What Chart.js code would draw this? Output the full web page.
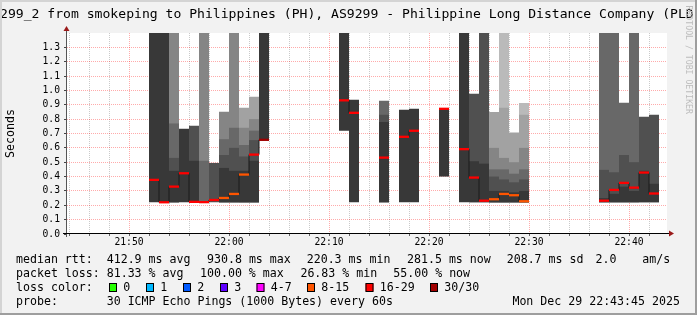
<!DOCTYPE html>
<html>
<head>
<meta charset="utf-8">
<script src="https://cdn.jsdelivr.net/npm/chart.js@4.4.1/dist/chart.umd.min.js"></script>
<style>
    html, body { margin: 0; padding: 0; background: #f2f2f2; }
    #grafico_smoke { display: block; }
</style>
</head>
<body>
<canvas id="grafico_smoke" width="697" height="315"></canvas>
<script>
/* Smokeping chart: one column per minute, smoke bands + median coloured by packet loss */

const minute_labels = [
    '21:52', '21:53', '21:54', '21:55', '21:56', '21:57', '21:58', '21:59', '22:00', '22:01', '22:02', '22:03',
    '22:11', '22:12', '22:15', '22:17', '22:18', '22:21',
    '22:23', '22:24', '22:25', '22:26', '22:27', '22:28', '22:29',
    '22:37', '22:38', '22:39', '22:40', '22:41', '22:42',
];

// seconds
const rtt_min = [
    0.221, 0.221, 0.221, 0.221, 0.221, 0.221, 0.221, 0.221, 0.221, 0.221, 0.221, 0.656,
    0.719, 0.221, 0.221, 0.221, 0.221, 0.400,
    0.221, 0.221, 0.221, 0.221, 0.221, 0.221, 0.221,
    0.221, 0.221, 0.221, 0.221, 0.221, 0.221,
];

const rtt_median = [
    0.377, 0.221, 0.330, 0.423, 0.224, 0.222, 0.237, 0.251, 0.279, 0.414, 0.553, 0.656,
    0.931, 0.844, 0.532, 0.677, 0.719, 0.872,
    0.591, 0.393, 0.232, 0.242, 0.279, 0.270, 0.228,
    0.232, 0.307, 0.356, 0.323, 0.428, 0.282,
];

// lost pings out of 30
const lost_pings = [
    22, 24, 20, 24, 22, 19, 23, 12, 12, 10, 17, 30,
    27, 26, 24, 26, 25, 28,
    25, 22, 21, 11, 9, 10, 12,
    20, 19, 18, 18, 19, 17,
];

// upper edge of each smoke band, darkest band first (seconds)
const smoke_top = [
    [1.5, 1.5, 1.5, 1.5, 1.5, 1.5],
    [1.5, 1.5, 1.5, 1.5, 1.5, 1.5],
    [0.44, 0.53, 0.77, 1.5, 1.5, 1.5],
    [0.733, 0.733, 0.733, 0.733, 0.733, 0.733],
    [0.51, 0.754, 0.754, 0.754, 0.754, 0.754],
    [0.221, 0.221, 0.51, 1.5, 1.5, 1.5],
    [0.221, 0.495, 0.495, 0.495, 0.495, 0.495],
    [0.46, 0.55, 0.66, 0.851, 0.851, 0.851],
    [0.44, 0.60, 0.74, 1.5, 1.5, 1.5],
    [0.44, 0.54, 0.62, 0.74, 0.879, 0.879],
    [0.51, 0.654, 0.72, 0.80, 0.956, 0.956],
    [1.5, 1.5, 1.5, 1.5, 1.5, 1.5],

    [1.5, 1.5, 1.5, 1.5, 1.5, 1.5],
    [0.935, 0.935, 0.935, 0.935, 0.935, 0.935],
    [0.78, 0.83, 0.928, 0.928, 0.928, 0.928],
    [0.865, 0.865, 0.865, 0.865, 0.865, 0.865],
    [0.872, 0.872, 0.872, 0.872, 0.872, 0.872],
    [0.877, 0.877, 0.877, 0.877, 0.877, 0.877],

    [1.5, 1.5, 1.5, 1.5, 1.5, 1.5],
    [0.507, 0.977, 0.977, 0.977, 0.977, 0.977],
    [0.49, 1.5, 1.5, 1.5, 1.5, 1.5],
    [0.30, 0.40, 0.45, 0.60, 0.849, 0.849],
    [0.30, 0.38, 0.45, 0.53, 0.88, 1.5],
    [0.29, 0.36, 0.42, 0.50, 0.707, 0.707],
    [0.30, 0.38, 0.45, 0.60, 0.83, 0.912],

    [0.25, 0.447, 1.5, 1.5, 1.5, 1.5],
    [0.28, 0.43, 1.5, 1.5, 1.5, 1.5],
    [0.33, 0.55, 0.914, 0.914, 0.914, 0.914],
    [0.30, 0.50, 1.5, 1.5, 1.5, 1.5],
    [0.44, 0.816, 0.816, 0.816, 0.816, 0.816],
    [0.35, 0.830, 0.830, 0.830, 0.830, 0.830],
];

const hour_labels = ['21:50', '22:00', '22:10', '22:20', '22:30', '22:40'];
const loss_labels = ['0', '1', '2', '3', '4-7', '8-15', '16-29', '30/30'];

const loss_colors = ['#26ff00', '#00b8ff', '#0059ff', '#5e00ff', '#ff00ff', '#ff5500', '#ff0000', '#a00000'];
const smoke_grays = ['#383838', '#505050', '#686868', '#858585', '#a2a2a2', '#bababa'];
const MONO = '"DejaVu Sans Mono", monospace';

function to_minutes(label) {
    const p = label.split(':');
    return Number(p[0]) * 60 + Number(p[1]);
}

function loss_class(n) {
    if (n <= 3) return n;
    if (n <= 7) return 4;
    if (n <= 15) return 5;
    if (n <= 29) return 6;
    return 7;
}

const x_center = minute_labels.map(m => to_minutes(m) + 0.5);

// smoke bands, drawn lightest first so the darker ones end up on top
const smoke_datasets = smoke_grays.map((gray, j) => ({
    type: 'bar',
    label: 'smoke ' + j,
    order: 2 + j,
    grouped: false,
    clip: 0,
    barPercentage: 1,
    categoryPercentage: 1,
    inflateAmount: 0,
    borderWidth: 0,
    backgroundColor: gray,
    data: x_center.map((x, i) => {
        const top = smoke_top[i][j];
        const prev = j > 0 ? smoke_top[i][j - 1] : rtt_min[i];
        if (top <= prev) return { x: x, y: null };
        return { x: x, y: [rtt_min[i], top] };
    }),
}));

// thin dark step line joining the medians, broken where minutes are missing
const step_data = [];
const first_min = to_minutes(minute_labels[0]);
const last_min = to_minutes(minute_labels[minute_labels.length - 1]);
for (let t = first_min; t <= last_min; t++) {
    const i = minute_labels.findIndex(m => to_minutes(m) === t);
    step_data.push({ x: t + 0.5, y: i >= 0 ? rtt_median[i] : null });
}

const median_step = {
    type: 'line',
    label: 'median step',
    order: 1,
    data: step_data,
    stepped: 'middle',
    spanGaps: false,
    borderColor: '#1a1a1a',
    borderWidth: 1,
    pointRadius: 0,
    clip: 0,
};

const median_bars = {
    type: 'bar',
    label: 'median rtt',
    order: 0,
    grouped: false,
    clip: 0,
    barPercentage: 1,
    categoryPercentage: 1,
    inflateAmount: 0,
    borderWidth: 0,
    backgroundColor: lost_pings.map(n => loss_colors[loss_class(n)]),
    data: x_center.map((x, i) => ({ x: x, y: [rtt_median[i] - 0.008, rtt_median[i] + 0.008] })),
};

const data_smoke = {
    datasets: [median_bars, median_step].concat(smoke_datasets),
};

// background, axes with arrows, title, legend rows, watermark and frame
const plugin_textos = {
    id: 'textos',
    beforeDraw(chart) {
        const ctx = chart.ctx;
        const a = chart.chartArea;
        ctx.save();
        ctx.fillStyle = '#f2f2f2';
        ctx.fillRect(0, 0, chart.width, chart.height);
        ctx.fillStyle = '#ffffff';
        ctx.fillRect(a.left, a.top, a.right - a.left, a.bottom - a.top);
        ctx.restore();
    },
    afterDraw(chart) {
        const ctx = chart.ctx;
        const a = chart.chartArea;
        ctx.save();

        // axes
        ctx.lineWidth = 1;
        ctx.strokeStyle = '#555';
        ctx.beginPath();
        ctx.moveTo(a.left - 0.5, a.top - 3);
        ctx.lineTo(a.left - 0.5, a.bottom + 3);
        ctx.stroke();
        ctx.strokeStyle = '#000';
        ctx.beginPath();
        ctx.moveTo(a.left - 4, a.bottom - 0.5);
        ctx.lineTo(a.right + 3, a.bottom - 0.5);
        ctx.stroke();

        ctx.fillStyle = '#9a1a1a';
        ctx.beginPath();
        ctx.moveTo(a.left - 0.5, a.top - 7);
        ctx.lineTo(a.left - 3.5, a.top - 2);
        ctx.lineTo(a.left + 2.5, a.top - 2);
        ctx.closePath();
        ctx.fill();
        ctx.beginPath();
        ctx.moveTo(a.right + 7, a.bottom - 0.5);
        ctx.lineTo(a.right + 2, a.bottom - 3.5);
        ctx.lineTo(a.right + 2, a.bottom + 2.5);
        ctx.closePath();
        ctx.fill();

        // title
        ctx.fillStyle = '#000';
        ctx.textBaseline = 'alphabetic';
        ctx.textAlign = 'left';
        ctx.font = '13.1px ' + MONO;
        ctx.fillText('299_2 from smokeping to Philippines (PH), AS9299 - Philippine Long Distance Company (PLD', 0, 18);

        // legend rows
        ctx.font = '11.6px ' + MONO;
        ctx.textBaseline = 'middle';
        const rows = [
            [259.5, [['median rtt:', 16], ['412.9 ms avg', 106.7], ['930.8 ms max', 207], ['220.3 ms min', 306.7],
                ['281.5 ms now', 407], ['208.7 ms sd', 506.7], ['2.0', 595.6], ['am/s', 642.2]]],
            [273.5, [['packet loss:', 16], ['81.33 % avg', 106.7], ['100.00 % max', 200], ['26.83 % min', 300.4],
                ['55.00 % now', 393.3]]],
            [287.5, [['loss color:', 16]]],
            [301.5, [['probe:', 16], ['30 ICMP Echo Pings (1000 Bytes) every 60s', 106.7],
                ['Mon Dec 29 22:43:45 2025', 512.4]]],
        ];
        rows.forEach(r => r[1].forEach(t => ctx.fillText(t[0], t[1], r[0])));

        const box_x = [109, 146, 183, 220, 256.5, 307, 365.5, 430];
        loss_labels.forEach((lab, k) => {
            ctx.fillStyle = loss_colors[k];
            ctx.fillRect(box_x[k], 283.5, 8, 8);
            ctx.strokeStyle = '#000';
            ctx.strokeRect(box_x[k] + 0.5, 283.5, 7, 8);
            ctx.fillStyle = '#000';
            ctx.fillText(lab, box_x[k] + 14.3, 287.5);
        });

        // watermark
        ctx.save();
        ctx.translate(688, 5.5);
        ctx.rotate(Math.PI / 2);
        ctx.font = '8.2px ' + MONO;
        ctx.fillStyle = '#bdbdbd';
        ctx.textBaseline = 'middle';
        ctx.fillText('RRDTOOL / TOBI OETIKER', 0, 0);
        ctx.restore();

        // frame
        ctx.fillStyle = '#d4d4d4';
        ctx.fillRect(0, 0, chart.width, 2);
        ctx.fillRect(0, 0, 2, chart.height);
        ctx.fillStyle = '#9e9e9e';
        ctx.fillRect(chart.width - 2, 0, 2, chart.height);
        ctx.fillRect(0, chart.height - 2, chart.width, 2);

        ctx.restore();
    }
};

const start_min = to_minutes(hour_labels[0]) - 6.2;

const config_smoke = {
    type: 'bar',
    data: data_smoke,
    options: {
        responsive: false,
        animation: false,
        devicePixelRatio: 1,
        layout: { padding: { top: 33, right: 30, bottom: 66, left: 0 } },
        plugins: {
            legend: { display: false },
            tooltip: { enabled: false },
        },
        scales: {
            x: {
                type: 'linear',
                min: start_min,
                max: start_min + 60,
                offset: false,
                z: 1,
                afterFit: (s) => { s.height = 15; },
                afterBuildTicks: (s) => {
                    const t = [];
                    for (let v = Math.ceil(start_min / 2) * 2; v < start_min + 60; v += 2) t.push({ value: v });
                    s.ticks = t;
                },
                grid: {
                    offset: false,
                    color: (c) => (c.tick && c.tick.value % 10 === 0) ? 'rgba(255,0,0,0.33)' : 'rgba(128,128,128,0.42)',
                    tickLength: 2,
                    tickColor: '#666',
                },
                border: { display: false, dash: [1, 1] },
                ticks: {
                    autoSkip: false,
                    maxRotation: 0,
                    padding: 1,
                    color: '#000',
                    font: { family: MONO, size: 9.7 },
                    callback: (v) => {
                        const k = hour_labels.findIndex(h => to_minutes(h) === v);
                        return k >= 0 ? hour_labels[k] : '';
                    },
                },
            },
            y: {
                min: 0,
                max: 1.4,
                z: 1,
                afterFit: (s) => { s.width = 67; },
                afterBuildTicks: (s) => {
                    const t = [];
                    for (let i = 0; i <= 14; i++) t.push({ value: i / 10 });
                    s.ticks = t;
                },
                grid: {
                    color: (c) => (c.tick && c.tick.value > 0.05 && c.tick.value < 1.35) ? 'rgba(255,0,0,0.33)' : 'rgba(0,0,0,0)',
                    tickLength: 3,
                    tickColor: (c) => (c.tick && c.tick.value < 1.35) ? '#444' : 'rgba(0,0,0,0)',
                },
                border: { display: false, dash: [1, 1] },
                ticks: {
                    autoSkip: false,
                    padding: 4,
                    color: '#000',
                    font: { family: MONO, size: 9.7 },
                    callback: (v) => v < 1.35 ? v.toFixed(1) : '',
                },
                title: {
                    display: true,
                    text: 'Seconds',
                    color: '#000',
                    font: { family: MONO, size: 11.6 },
                    padding: { top: 4, bottom: 0 },
                },
            },
        },
    },
    plugins: [plugin_textos],
};

const grafico_smoke = new Chart(
    document.getElementById('grafico_smoke'),
    config_smoke
);
</script>
</body>
</html>
